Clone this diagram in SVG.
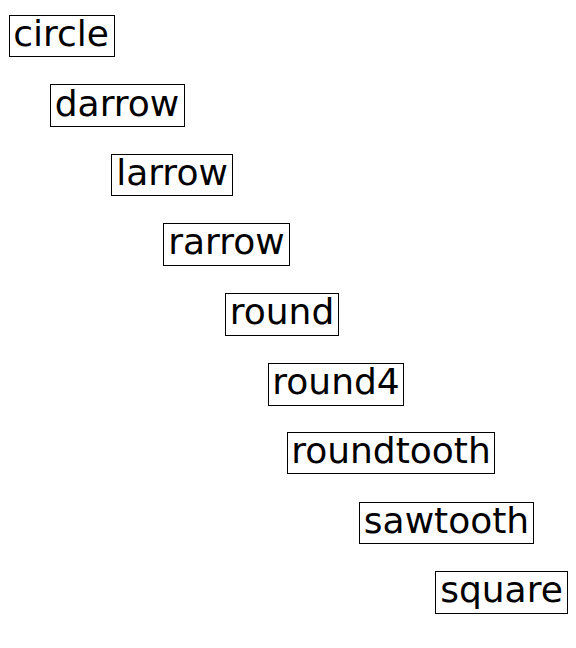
<svg xmlns="http://www.w3.org/2000/svg" width="576" height="648" viewBox="0 0 576 648">
<style>
rect{fill:none;stroke:#000;stroke-width:1}
text{font-family:"DejaVu Sans",sans-serif;font-size:36px;fill:#000;text-anchor:middle}
</style>
<rect x="0" y="0" width="576" height="648" fill="#fff" stroke="none" style="fill:#fff;stroke:none"/>
<g id="circle"><rect x="9.5" y="15.5" width="105" height="41"/><text x="61" y="46">circle</text></g>
<g id="darrow"><rect x="50.5" y="84.5" width="134" height="42"/><text x="117" y="116">darrow</text></g>
<g id="larrow"><rect x="111.5" y="154.5" width="121" height="41"/><text x="172" y="185">larrow</text></g>
<g id="rarrow"><rect x="163.5" y="223.5" width="126" height="42"/><text x="226.5" y="254">rarrow</text></g>
<g id="round"><rect x="225.5" y="293.5" width="113" height="42"/><text x="282" y="324">round</text></g>
<g id="round4"><rect x="268.5" y="363.5" width="135" height="42"/><text x="336" y="394">round4</text></g>
<g id="roundtooth"><rect x="287.5" y="432.5" width="207" height="41"/><text x="391" y="463">roundtooth</text></g>
<g id="sawtooth"><rect x="359.5" y="502.5" width="174" height="41"/><text x="446.5" y="533">sawtooth</text></g>
<g id="square"><rect x="435.5" y="571.5" width="132" height="42"/><text x="501.5" y="602">square</text></g>
<g id="connectors"></g>
</svg>
